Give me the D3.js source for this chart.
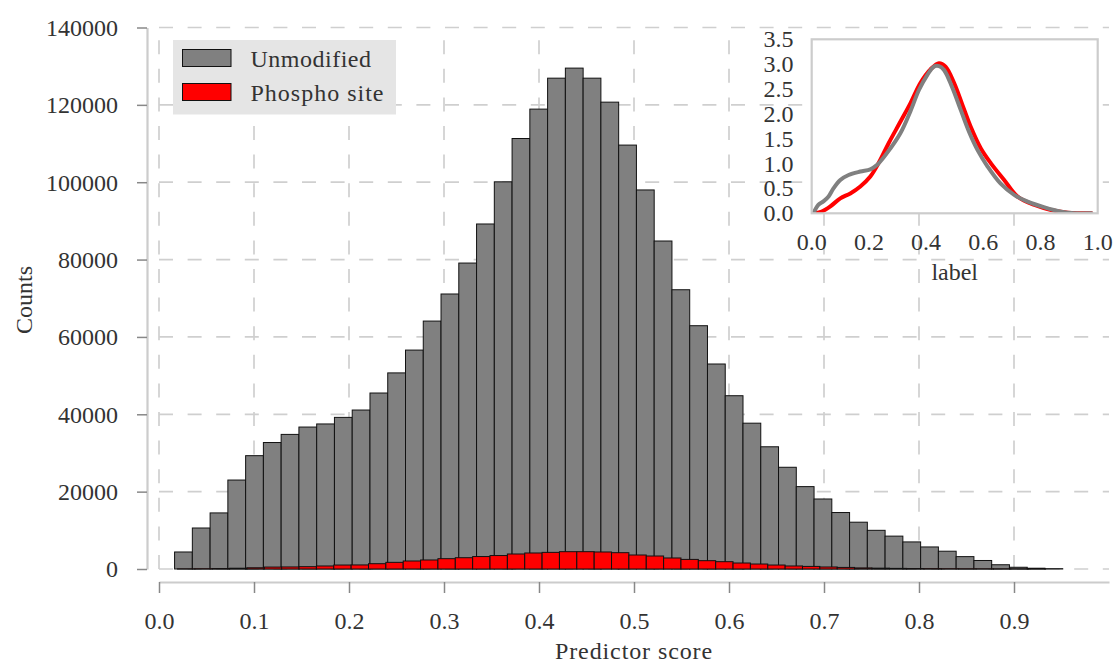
<!DOCTYPE html>
<html>
<head>
<meta charset="utf-8">
<script src="https://cdn.jsdelivr.net/npm/d3@7"></script>
<style>
  html, body { margin: 0; padding: 0; background: #fff; }
  svg { display: block; }
  text { font-family: "Liberation Serif", "DejaVu Serif", serif; fill: #333; }
</style>
</head>
<body>
<svg id="chart" width="1116" height="664"></svg>
<script>
// ---------------- DATA ----------------
const seriesNames = ["Unmodified", "Phospho site"];
// histogram of unmodified sites: range of the bins and counts per bin
const unmodRange = [0.0164, 0.9513];
const unmodCounts = [4400, 10600, 14500, 23000, 29300, 32700, 34800, 36700, 37500, 39200,
  41100, 45500, 50700, 56600, 64100, 71100, 79100, 89200, 100100, 111300,
  118900, 126900, 129500, 126900, 120700, 109600, 98000, 84800, 72200, 62900,
  53000, 44800, 37700, 31600, 26300, 21300, 18100, 14600, 12100, 10000,
  8500, 7000, 5700, 4600, 3200, 2200, 1100, 450, 200, 80];
// histogram of phospho sites
const phosRange = [0.0195, 0.9332];
const phosCounts = [20, 60, 120, 200, 320, 500, 530, 600, 780, 1030,
  1050, 1370, 1720, 2070, 2330, 2670, 2920, 3220, 3480, 3880,
  4140, 4300, 4480, 4480, 4400, 4220, 3620, 3360, 2850, 2480,
  2150, 1890, 1550, 1290, 1030, 780, 670, 520, 410, 280,
  220, 160, 120, 90, 60, 40, 30, 20, 10, 5];
const xTicks = [0.0, 0.1, 0.2, 0.3, 0.4, 0.5, 0.6, 0.7, 0.8, 0.9];
const yTicks = [0, 20000, 40000, 60000, 80000, 100000, 120000, 140000];

// inset KDE curves (x = score, y = density)
const kdeUnmodX = [0.006, 0.023, 0.041, 0.059, 0.076, 0.10, 0.129, 0.17, 0.205, 0.228, 0.263, 0.31, 0.345, 0.375, 0.404, 0.427, 0.445, 0.463, 0.49, 0.521, 0.55, 0.58, 0.615, 0.66, 0.708, 0.755, 0.814, 0.872, 0.919, 0.978];
const kdeUnmodY = [0.0, 0.17, 0.24, 0.34, 0.50, 0.67, 0.77, 0.84, 0.885, 0.97, 1.21, 1.61, 2.05, 2.48, 2.78, 2.95, 2.96, 2.88, 2.55, 2.08, 1.64, 1.27, 0.94, 0.60, 0.37, 0.235, 0.12, 0.034, 0.0, 0.0];
const kdePhosX = [0.012, 0.035, 0.064, 0.10, 0.135, 0.17, 0.205, 0.234, 0.269, 0.31, 0.345, 0.38, 0.416, 0.445, 0.468, 0.498, 0.527, 0.556, 0.591, 0.626, 0.673, 0.72, 0.779, 0.837, 0.896, 0.978];
const kdePhosY = [0.0, 0.034, 0.134, 0.30, 0.40, 0.54, 0.74, 1.01, 1.41, 1.84, 2.21, 2.62, 2.90, 3.02, 2.95, 2.62, 2.18, 1.74, 1.31, 1.01, 0.67, 0.335, 0.168, 0.067, 0.013, 0.0];
const insetXTicks = [0.0, 0.2, 0.4, 0.6, 0.8, 1.0];
const insetYTicks = [0.0, 0.5, 1.0, 1.5, 2.0, 2.5, 3.0, 3.5];

// ---------------- DRAW ----------------
const svg = d3.select("#chart");
const FS = 24;
const gridColor = "#cfcfcf";

const x = d3.scaleLinear().domain([0, 1]).range([159, 1109]);
const y = d3.scaleLinear().domain([0, 140000]).range([569, 27.5]);

// grid
const grid = svg.append("g");
xTicks.forEach(t => {
  grid.append("line")
    .attr("x1", x(t)).attr("x2", x(t))
    .attr("y1", y(0)).attr("y2", y(140000))
    .attr("stroke", gridColor).attr("stroke-width", 1.7)
    .attr("stroke-dasharray", "14,14.6");
});
yTicks.forEach(t => {
  grid.append("line")
    .attr("x1", x(0)).attr("x2", x(1))
    .attr("y1", y(t)).attr("y2", y(t))
    .attr("stroke", gridColor).attr("stroke-width", 1.7)
    .attr("stroke-dasharray", "14,14.6");
});

function bins(range, counts) {
  const w = (range[1] - range[0]) / counts.length;
  return counts.map((c, i) => ({ x0: range[0] + i * w, x1: range[0] + (i + 1) * w, v: c }));
}

function drawHist(data, fill) {
  svg.append("g").selectAll("rect").data(data).join("rect")
    .attr("x", d => x(d.x0))
    .attr("width", d => x(d.x1) - x(d.x0))
    .attr("y", d => y(d.v))
    .attr("height", d => y(0) - y(d.v))
    .attr("fill", fill)
    .attr("stroke", "#111")
    .attr("stroke-width", 1);
}
drawHist(bins(unmodRange, unmodCounts), "#808080");
drawHist(bins(phosRange, phosCounts), "#ff0000");

// x axis
const xAxis = svg.append("g").attr("transform", "translate(0,582)")
  .call(d3.axisBottom(x).tickValues(xTicks).tickSize(11).tickSizeOuter(0).tickFormat(d3.format(".1f")));
xAxis.select(".domain").attr("stroke", "#cccccc").attr("stroke-width", 2.2);
xAxis.selectAll(".tick line").attr("stroke", "#888").attr("stroke-width", 1.5);
xAxis.selectAll(".tick text").attr("y", 47).attr("dy", 0).style("font-size", FS + "px")
  .style("font-family", '"Liberation Serif", serif').attr("fill", "#333");

// y axis
const yAxis = svg.append("g").attr("transform", "translate(147,0)")
  .call(d3.axisLeft(y).tickValues(yTicks).tickSize(10).tickSizeOuter(0).tickFormat(d3.format("d")));
yAxis.select(".domain").attr("stroke", "#cccccc").attr("stroke-width", 2.2);
yAxis.selectAll(".tick line").attr("stroke", "#888").attr("stroke-width", 1.5);
yAxis.selectAll(".tick text").attr("x", -29).attr("dy", "0.33em").style("font-size", FS + "px")
  .style("font-family", '"Liberation Serif", serif').attr("fill", "#333");

// axis titles
svg.append("text").attr("x", (x(0) + x(1)) / 2).attr("y", 659)
  .attr("text-anchor", "middle").style("font-size", FS + "px").style("letter-spacing", "0.9px").text("Predictor score");
svg.append("text").attr("transform", "translate(31.5,300) rotate(-90)")
  .attr("text-anchor", "middle").style("font-size", FS + "px").text("Counts");

// legend
const leg = svg.append("g");
leg.append("rect").attr("x", 173).attr("y", 40).attr("width", 223).attr("height", 74.5).attr("fill", "#e5e5e5");
const legColors = ["#808080", "#ff0000"];
seriesNames.forEach((n, i) => {
  leg.append("rect").attr("x", 182.5).attr("y", 49.5 + i * 34).attr("width", 48.5).attr("height", 17)
    .attr("fill", legColors[i]).attr("stroke", "#111").attr("stroke-width", 1);
  leg.append("text").attr("x", 250.5).attr("y", 66.5 + i * 34).style("font-size", FS + "px")
    .style("letter-spacing", i === 0 ? "0.5px" : "1px").text(n);
});

// inset
const ix = d3.scaleLinear().domain([0, 1]).range([811.7, 1097.7]);
const iy = d3.scaleLinear().domain([0, 3.5]).range([213.3, 39.3]);
const inset = svg.append("g");
inset.append("rect").attr("x", ix(0)).attr("y", iy(3.5)).attr("width", ix(1) - ix(0)).attr("height", iy(0) - iy(3.5))
  .attr("fill", "#fff");
svg.append("clipPath").attr("id", "insetClip").append("rect")
  .attr("x", ix(0)).attr("y", iy(3.5)).attr("width", ix(1) - ix(0)).attr("height", iy(0) - iy(3.5));
const line = d3.line().x(d => ix(d[0])).y(d => iy(d[1])).curve(d3.curveCatmullRom.alpha(0.5));
const lines = inset.append("g").attr("clip-path", "url(#insetClip)");
lines.append("path").datum(kdePhosX.map((v, i) => [v, kdePhosY[i]]))
  .attr("d", line).attr("fill", "none").attr("stroke", "#ff0000").attr("stroke-width", 4)
  .attr("stroke-linejoin", "round").attr("stroke-linecap", "round");
lines.append("path").datum(kdeUnmodX.map((v, i) => [v, kdeUnmodY[i]]))
  .attr("d", line).attr("fill", "none").attr("stroke", "#808080").attr("stroke-width", 4)
  .attr("stroke-linejoin", "round").attr("stroke-linecap", "round");
inset.append("rect").attr("x", ix(0)).attr("y", iy(3.5)).attr("width", ix(1) - ix(0)).attr("height", iy(0) - iy(3.5))
  .attr("fill", "none").attr("stroke", "#cccccc").attr("stroke-width", 2.2);
insetXTicks.forEach(t => {
  inset.append("text").attr("x", ix(t)).attr("y", 250).attr("text-anchor", "middle")
    .style("font-size", FS + "px").text(d3.format(".1f")(t));
});
insetYTicks.forEach(t => {
  inset.append("text").attr("x", 793.5).attr("y", iy(t)).attr("dy", "0.33em").attr("text-anchor", "end")
    .style("font-size", FS + "px").text(d3.format(".1f")(t));
});
inset.append("text").attr("x", (ix(0) + ix(1)) / 2).attr("y", 280).attr("text-anchor", "middle")
  .style("font-size", FS + "px").text("label");
</script>
</body>
</html>
